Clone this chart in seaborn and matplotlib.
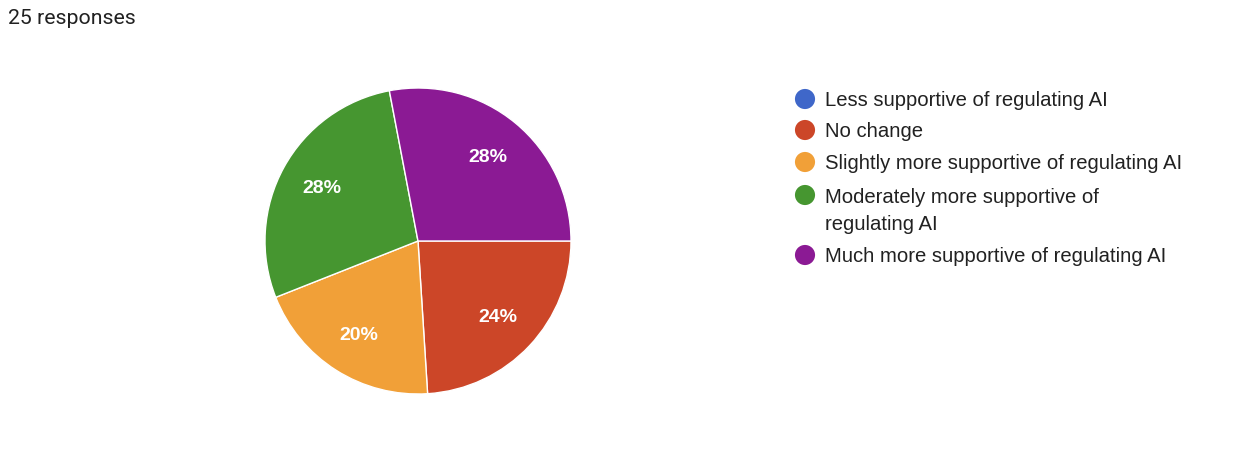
import seaborn as sns
import matplotlib.pyplot as plt

labels = [
    "Less supportive of regulating AI",
    "No change",
    "Slightly more supportive of regulating AI",
    "Moderately more supportive of\nregulating AI",
    "Much more supportive of regulating AI",
]
counts = [0, 6, 5, 7, 7]
colors = ["#3f67c9", "#cc4628", "#f1a038", "#469630", "#8b1a94"]
title = "25 responses"

sns.set_theme(style="white")
plt.rcParams['font.family'] = ['Liberation Sans', 'DejaVu Sans']

fig = plt.figure(figsize=(12.44, 4.52), dpi=100)

# pie sits left of centre, legend on the right
ax = fig.add_axes([265 / 1244, 57 / 452, 306 / 1244, 306 / 452])


def fmt(p):
    return f"{p:.0f}%" if p > 0 else ""


wedges, texts, autotexts = ax.pie(
    counts,
    colors=colors,
    startangle=0,
    counterclock=False,
    autopct=fmt,
    pctdistance=0.72,
    wedgeprops=dict(edgecolor="white", linewidth=1),
    textprops=dict(color="white", fontsize=14, fontweight="bold"),
)
ax.set_xlim(-1, 1)
ax.set_ylim(-1, 1)
ax.set_aspect("equal")

fig.text(8 / 1244, 1 - 19 / 452, title, fontsize=15.3, family=["Roboto", "DejaVu Sans"],
         color="#212121", va="center", ha="left")

# legend drawn on a full-figure overlay in pixel units
lg = fig.add_axes([0, 0, 1, 1], facecolor="none")
lg.set_xlim(0, 1244)
lg.set_ylim(452, 0)
lg.axis("off")
rows = [101, 132, 164, 211, 257]
for lab, col, y in zip(labels, colors, rows):
    top = y - 14 if "\n" in lab else y
    lg.scatter([805], [top - 1], s=210, color=col, edgecolors="none")
    lg.text(825, y, lab, fontsize=14.6, color="#212121", va="center", ha="left",
            linespacing=1.55)

plt.savefig("out.png", dpi=100)
